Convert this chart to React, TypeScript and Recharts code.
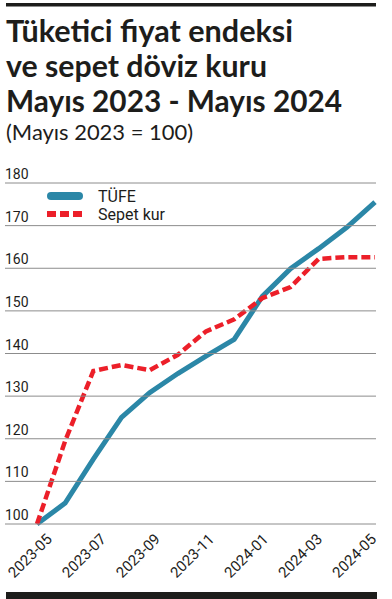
import React from "react";
import { LineChart, Line, XAxis, YAxis, Legend } from "recharts";

const months = [
  "2023-05", "2023-06", "2023-07", "2023-08", "2023-09", "2023-10", "2023-11",
  "2023-12", "2024-01", "2024-02", "2024-03", "2024-04", "2024-05",
];
const tufe = [100, 104.9, 115.2, 125.0, 130.8, 135.3, 139.4, 143.3, 153.4, 159.9, 164.6, 169.6, 175.5];
const sepet = [100, 119.5, 135.9, 137.3, 136.1, 139.7, 145.2, 148.0, 153.0, 155.6, 162.2, 162.6, 162.6];
const yTicks = [100, 110, 120, 130, 140, 150, 160, 170, 180];

const titleLines = ["Tüketici fiyat endeksi", "ve sepet döviz kuru", "Mayıs 2023 - Mayıs 2024"];
const subtitle = "(Mayıs 2023 = 100)";
const seriesNames = { tufe: "TÜFE", sepet: "Sepet kur" };
const seriesOrder = ["tufe", "sepet"];

const data = months.map((m, i) => ({ month: m, tufe: tufe[i], sepet: sepet[i] }));

const BLUE = "#2b87a7";
const RED = "#ec1f29";
const INK = "#1d1d1b";
const GRID = "#8c8c8c";

const W = 392;
const H = 599;

const YTick = (props: any) => {
  const { y, payload } = props;
  return (
    <g>
      <line x1={5} x2={376} y1={y} y2={y} stroke={GRID} strokeWidth={1} />
      <text x={5} y={y - 4} fontFamily="Roboto" fontSize={14} fill={INK} textAnchor="start">
        {payload.value}
      </text>
    </g>
  );
};

const XTick = (props: any) => {
  const { x, y, payload } = props;
  const i = months.indexOf(payload.value);
  const dx = 16 - i * 1.15;
  return (
    <g transform={`translate(${x + dx},${y + 16})`}>
      <text transform="rotate(-45)" textAnchor="end" fontFamily="Roboto" fontSize={15} fill={INK}>
        {payload.value}
      </text>
    </g>
  );
};

const LegendContent = (props: any) => {
  const payload = [...(props.payload || [])].sort(
    (a: any, b: any) => seriesOrder.indexOf(a.dataKey) - seriesOrder.indexOf(b.dataKey)
  );
  return (
    <svg width={140} height={40} style={{ display: "block" }}>
      {payload.map((p: any, idx: number) => {
        const cy = idx === 0 ? 10 : 28;
        const dashed = p.dataKey === "sepet";
        return (
          <g key={idx}>
            {dashed ? (
              <line x1={3} x2={39} y1={cy} y2={cy} stroke={p.color} strokeWidth={6} strokeDasharray="9 4" />
            ) : (
              <line x1={7} x2={35} y1={cy} y2={cy} stroke={p.color} strokeWidth={8} strokeLinecap="round" />
            )}
            <text x={54} y={cy + 6} fontFamily="Roboto" fontSize={16} fill={INK}>
              {p.value}
            </text>
          </g>
        );
      })}
    </svg>
  );
};

export default function App() {
  return (
    <div style={{ position: "absolute", left: 0, top: 0, width: W, height: H, background: "#fff" }}>
      <svg width={W} height={H} style={{ position: "absolute", left: 0, top: 0 }}>
        <rect x={6} y={3} width={370} height={3.5} fill={INK} />
        <text x={6} y={42} fontFamily="Lato" fontWeight={700} fontSize={31} fill={INK} textLength={287} lengthAdjust="spacingAndGlyphs">
          {titleLines[0]}
        </text>
        <text x={6} y={77} fontFamily="Lato" fontWeight={700} fontSize={31} fill={INK} textLength={261} lengthAdjust="spacingAndGlyphs">
          {titleLines[1]}
        </text>
        <text x={6} y={112} fontFamily="Lato" fontWeight={700} fontSize={31} fill={INK} textLength={336} lengthAdjust="spacingAndGlyphs">
          {titleLines[2]}
        </text>
        <text x={6} y={140} fontFamily="Lato" fontWeight={400} fontSize={21} fill={INK} textLength={187} lengthAdjust="spacingAndGlyphs">
          {subtitle}
        </text>
        <rect x={6} y={592} width={371} height={7} fill={INK} />
      </svg>
      <div style={{ position: "absolute", left: 0, top: 0 }}>
        <LineChart
          width={W}
          height={H}
          data={data}
          margin={{ top: 183, right: 17, bottom: 15, left: 5 }}
        >
          <XAxis
            dataKey="month"
            interval={1}
            axisLine={false}
            tickLine={false}
            tickSize={0}
            tickMargin={0}
            height={60}
            tick={<XTick />}
          />
          <YAxis
            domain={[100, 180]}
            ticks={yTicks}
            interval={0}
            axisLine={false}
            tickLine={false}
            width={32}
            tick={<YTick />}
          />
          <Legend
            layout="vertical"
            align="center"
            verticalAlign="middle"
            wrapperStyle={{ top: 186, left: 44, width: 140, height: 40 }}
            content={<LegendContent />}
          />
          <Line
            type="linear"
            dataKey="tufe"
            name={seriesNames.tufe}
            stroke={BLUE}
            strokeWidth={5}
            dot={false}
            isAnimationActive={false}
          />
          <Line
            type="linear"
            dataKey="sepet"
            name={seriesNames.sepet}
            stroke={RED}
            strokeWidth={4.5}
            strokeDasharray="9 4"
            dot={false}
            isAnimationActive={false}
          />
        </LineChart>
      </div>
    </div>
  );
}
